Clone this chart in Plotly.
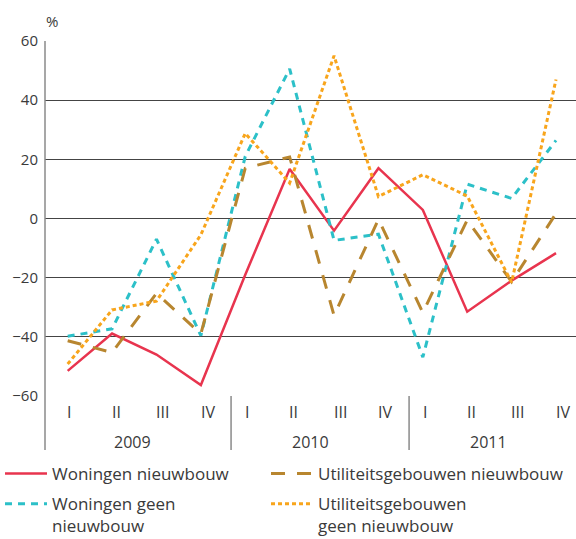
import plotly.graph_objects as go

quarters = ["I", "II", "III", "IV"] * 3
years = ["2009", "2010", "2011"]

woningen_nieuwbouw = [-51.5, -38.9, -46.0, -56.3, -19.0, 16.7, -4.1, 17.0, 2.9, -31.5, -21.0, -11.7]
woningen_geen = [-39.8, -37.3, -7.0, -39.6, 21.0, 50.6, -7.4, -5.3, -46.9, 11.6, 6.8, 26.4]
util_nieuwbouw = [-41.3, -45.3, -25.3, -39.0, 17.0, 20.8, -32.8, -0.3, -31.8, -0.5, -21.4, 1.7]
util_geen = [-49.2, -30.9, -27.9, -5.5, 28.8, 12.0, 55.0, 7.4, 14.8, 7.6, -21.6, 47.0]

x = list(range(len(quarters)))
FONT = "Open Sans"
TXT = "#3a3a3a"

fig = go.Figure()
fig.add_trace(go.Scatter(x=x, y=woningen_nieuwbouw, mode="lines", name="Woningen nieuwbouw",
                         legend="legend", legendgroup="a",
                         line=dict(color="#e8344e", width=2.5)))
fig.add_trace(go.Scatter(x=x, y=woningen_geen, mode="lines", name="Woningen geen<br>nieuwbouw",
                         legend="legend", legendgroup="b",
                         line=dict(color="#2cc0c8", width=3, dash="7px,6px")))
fig.add_trace(go.Scatter(x=x, y=util_nieuwbouw, mode="lines", name="Utiliteitsgebouwen nieuwbouw",
                         legend="legend2", legendgroup="c",
                         line=dict(color="#b8862f", width=3, dash="14px,12px")))
fig.add_trace(go.Scatter(x=x, y=util_geen, mode="lines", name="Utiliteitsgebouwen<br>geen nieuwbouw",
                         legend="legend2", legendgroup="d",
                         line=dict(color="#f8a51c", width=3, dash="4px,3px")))

W, H = 576, 539
L, R, T, B = 45, 0, 41, 143
ph = H - T - B

def ypx(p):
    return -(p - (H - B)) / ph

annotations = []
for i, q in enumerate(quarters):
    annotations.append(dict(x=i - 0.05, y=ypx(412), xref="x", yref="paper", text=q,
                            showarrow=False, xanchor="left", yanchor="middle",
                            font=dict(family=FONT, size=16, color=TXT)))
for k, yr in enumerate(years):
    annotations.append(dict(x=4 * k + 1.47, y=ypx(442), xref="x", yref="paper", text=yr,
                            showarrow=False, xanchor="center", yanchor="middle",
                            font=dict(family=FONT, size=16, color=TXT)))
annotations.append(dict(x=(52 - L) / (W - L - R), y=ypx(21), xref="paper", yref="paper", text="%",
                        showarrow=False, xanchor="center", yanchor="middle",
                        font=dict(family=FONT, size=15, color=TXT)))

shapes = [dict(type="line", xref="paper", yref="paper", x0=0, x1=0, y0=ypx(450), y1=1,
               line=dict(color="#8a8a8a", width=1.5))]
for sx in [3.68, 7.69]:
    shapes.append(dict(type="line", xref="x", yref="paper", x0=sx, x1=sx, y0=ypx(450), y1=0,
                       line=dict(color="#8a8a8a", width=1.5)))

leg_common = dict(orientation="v", xref="container", yref="container", xanchor="left",
                  y=1 - 456 / H, yanchor="top", traceorder="grouped", valign="top",
                  font=dict(family=FONT, size=17, color=TXT), bgcolor="rgba(0,0,0,0)",
                  itemwidth=42, tracegroupgap=5, borderwidth=0)

fig.update_layout(
    width=W, height=H,
    margin=dict(l=L, r=R, t=T, b=B, pad=0, autoexpand=False),
    paper_bgcolor="white", plot_bgcolor="white",
    font=dict(family=FONT, color=TXT),
    xaxis=dict(range=[-0.511, 11.45], showgrid=False, zeroline=False, showticklabels=False,
               showline=False, fixedrange=True),
    yaxis=dict(range=[-60, 60], tickvals=[-60, -40, -20, 0, 20, 40, 60], showgrid=True,
               gridcolor="#444444", gridwidth=1, zeroline=False, showline=False,
               tickfont=dict(family=FONT, size=15, color=TXT), ticks="", ticklabelstandoff=6),
    showlegend=True,
    legend=dict(x=0, **leg_common),
    legend2=dict(x=266 / W, **leg_common),
    annotations=annotations,
    shapes=shapes,
)

fig.write_html("out.html", config={"displayModeBar": False},
               post_script="document.body.style.margin='0';document.body.style.overflow='hidden';")
